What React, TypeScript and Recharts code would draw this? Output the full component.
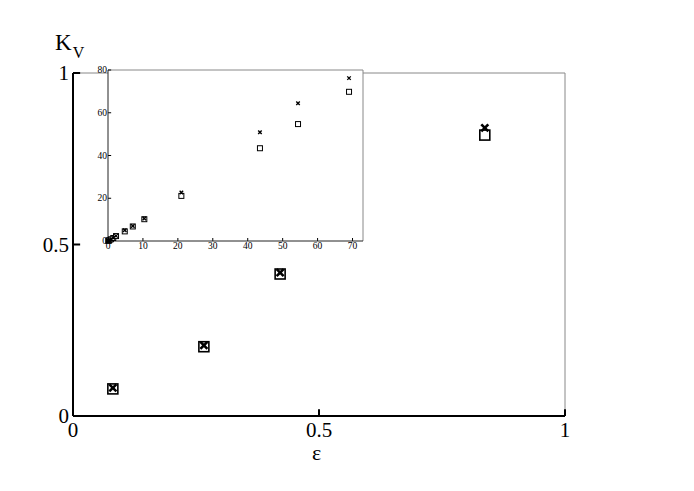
import { ScatterChart, Scatter, XAxis, YAxis, CartesianGrid, ReferenceLine } from "recharts";

// main panel: first four points, eps in [0, 1]
const epsMain = [0.081, 0.266, 0.421, 0.837];
const kvCrossMain = [0.082, 0.206, 0.418, 0.84];
const kvSquareMain = [0.079, 0.202, 0.414, 0.819];

// inset: full range
const epsInset = [0.08, 0.27, 0.42, 0.84, 1.5, 2.3, 4.8, 7.1, 10.4, 21.0, 43.5, 54.4, 69.0];
const kvCrossInset = [0.08, 0.21, 0.42, 0.84, 1.5, 2.4, 5.0, 7.0, 10.5, 22.7, 50.9, 64.5, 76.2];
const kvSquareInset = [0.08, 0.2, 0.41, 0.82, 1.4, 2.3, 4.5, 6.8, 10.2, 21.1, 43.4, 54.7, 69.8];

const mainTicks = [0, 0.5, 1];
const insetXTicks = [0, 10, 20, 30, 40, 50, 60, 70];
const insetYTicks = [0, 20, 40, 60, 80];

const FONT = "'Liberation Serif', 'DejaVu Serif', serif";

const zip = (xs: number[], ys: number[]) => xs.map((x, i) => ({ x, y: ys[i] }));

const Square = (size: number, sw: number) => (p: any) => (
  <rect x={p.cx - size / 2} y={p.cy - size / 2} width={size} height={size} fill="#fff" stroke="#000" strokeWidth={sw} />
);

const Cross = (size: number, sw: number) => (p: any) => {
  const h = size / 2;
  return (
    <g stroke="#000" strokeWidth={sw}>
      <line x1={p.cx - h} y1={p.cy - h} x2={p.cx + h} y2={p.cy + h} />
      <line x1={p.cx - h} y1={p.cy + h} x2={p.cx + h} y2={p.cy - h} />
    </g>
  );
};

const fmtMain = (v: number) => (v === 0 ? "0" : v === 1 ? "1" : "0.5");

const XLabel = (fs: number, gap: number, fmt: (v: number) => string) => (p: any) => (
  <text x={p.x} y={p.y + gap} textAnchor="middle" dominantBaseline="hanging" fontSize={fs} fontFamily={FONT} fill="#000">
    {fmt(p.payload.value)}
  </text>
);

const YLabel = (fs: number, gap: number, fmt: (v: number) => string) => (p: any) => (
  <text x={p.x - gap} y={p.y} textAnchor="end" dominantBaseline="central" fontSize={fs} fontFamily={FONT} fill="#000">
    {fmt(p.payload.value)}
  </text>
);

// inward tick marks drawn as short segments (length given in data units)
const xTickMarks = (ticks: number[], len: number, sw: number) =>
  ticks.map((t) => (
    <ReferenceLine key={"xt" + t} segment={[{ x: t, y: 0 }, { x: t, y: len }]} stroke="#000" strokeWidth={sw} ifOverflow="visible" />
  ));
const yTickMarks = (ticks: number[], len: number, sw: number) =>
  ticks.map((t) => (
    <ReferenceLine key={"yt" + t} segment={[{ x: 0, y: t }, { x: len, y: t }]} stroke="#000" strokeWidth={sw} ifOverflow="visible" />
  ));

export default function App() {
  return (
    <div style={{ position: "absolute", left: 0, top: 0, width: 694, height: 491, background: "#fff" }}>
      <ScatterChart width={694} height={491} margin={{ top: 73, right: 129, bottom: 45, left: 33 }}>
        <ReferenceLine y={1} stroke="#888" strokeWidth={1} />
        <ReferenceLine x={1} stroke="#888" strokeWidth={1} />
        {xTickMarks(mainTicks, 0.02, 2)}
        {yTickMarks(mainTicks, 0.0145, 2)}
        <XAxis type="number" dataKey="x" domain={[0, 1]} ticks={mainTicks} height={30}
          axisLine={{ stroke: "#000", strokeWidth: 2 }} tickLine={false} tickSize={0} tickMargin={0}
          tick={XLabel(21, 6, fmtMain)} />
        <YAxis type="number" dataKey="y" domain={[0, 1]} ticks={mainTicks} width={40}
          axisLine={{ stroke: "#000", strokeWidth: 2 }} tickLine={false} tickSize={0} tickMargin={0}
          tick={YLabel(21, 4, fmtMain)} />
        <Scatter data={zip(epsMain, kvSquareMain)} shape={Square(10, 1.6)} isAnimationActive={false} />
        <Scatter data={zip(epsMain, kvCrossMain)} shape={Cross(7, 2.6)} isAnimationActive={false} />
      </ScatterChart>

      <div style={{ position: "absolute", left: 55, top: 31, fontFamily: FONT, fontSize: 23, lineHeight: 1 }}>
        K<span style={{ fontSize: 16, position: "relative", top: 8, marginLeft: 1 }}>V</span>
      </div>
      <div style={{ position: "absolute", left: 312, top: 445, fontFamily: FONT, fontSize: 22, lineHeight: 0.7 }}>
        ε
      </div>

      <div style={{ position: "absolute", left: 60, top: 55 }}>
        <ScatterChart width={320} height={210} margin={{ top: 15, right: 17, bottom: 10, left: 28 }}>
          <CartesianGrid horizontal={false} vertical={false} fill="#fff" />
          <ReferenceLine y={80} stroke="#888" strokeWidth={1} />
          <ReferenceLine x={73} stroke="#888" strokeWidth={1} />
          {xTickMarks(insetXTicks, 1.4, 1)}
          {yTickMarks(insetYTicks, 0.9, 1)}
          <XAxis type="number" dataKey="x" domain={[0, 73]} ticks={insetXTicks} height={14}
            axisLine={{ stroke: "#222", strokeWidth: 1 }} tickLine={false} tickSize={0} tickMargin={0}
            tick={XLabel(9.5, 2, (v) => String(v))} />
          <YAxis type="number" dataKey="y" domain={[0, 80]} ticks={insetYTicks} width={20}
            axisLine={{ stroke: "#222", strokeWidth: 1 }} tickLine={false} tickSize={0} tickMargin={0}
            tick={YLabel(9.5, 1, (v) => String(v))} />
          <Scatter data={zip(epsInset, kvSquareInset)} shape={Square(5, 1)} isAnimationActive={false} />
          <Scatter data={zip(epsInset, kvCrossInset)} shape={Cross(3.5, 1.4)} isAnimationActive={false} />
        </ScatterChart>
      </div>
    </div>
  );
}
